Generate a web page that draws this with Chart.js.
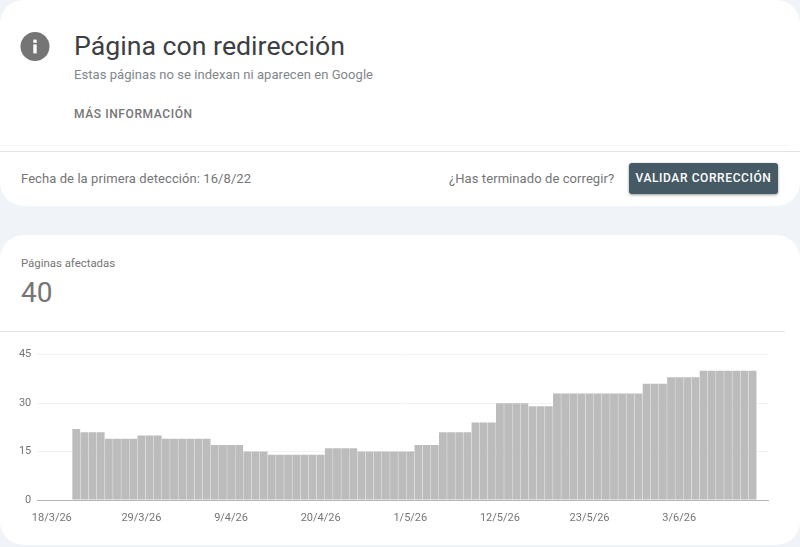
<!DOCTYPE html>
<html lang="es">
<head>
<meta charset="utf-8">
<title>Página con redirección</title>
<script src="https://cdn.jsdelivr.net/npm/chart.js@4"></script>
<style>
html,body{margin:0;padding:0;width:800px;height:547px;overflow:hidden;background:#f0f4f9;font-family:Roboto,sans-serif}
.card{position:absolute;left:0;width:800px;background:#fff;border-radius:24px}
.t{position:absolute;white-space:nowrap;margin:0;font-weight:400}
.rule{position:absolute;height:1px}
#wrap{position:absolute;left:0;top:340px;width:800px;height:207px}
</style>
</head>
<body>
<div class="card" style="top:0;height:206px"></div>
<div class="card" style="top:235px;height:310px"></div>

<svg style="position:absolute;left:20px;top:31px" width="30" height="30" viewBox="0 0 30 30" aria-hidden="true">
  <circle cx="15" cy="15.5" r="14.5" fill="#757575"/>
  <rect x="13.3" y="8.6" width="3.4" height="3.2" fill="#fff"/>
  <rect x="13.3" y="13.4" width="3.4" height="9" fill="#fff"/>
</svg>

<h1 class="t" style="left:74px;top:30px;font-size:26.7px;line-height:32px;color:#3c4043">Página con redirección</h1>
<div class="t" style="left:74px;top:67px;font-size:13px;line-height:16px;color:#80868b;letter-spacing:.06px">Estas páginas no se indexan ni aparecen en Google</div>
<div class="t" style="left:74px;top:106px;font-size:12px;line-height:16px;color:#757575;font-weight:500;letter-spacing:.6px">MÁS INFORMACIÓN</div>

<div class="rule" style="left:0;top:145px;width:790px;background:#f5f5f5"></div>
<div class="rule" style="left:0;top:151px;width:800px;background:#e3e3e3"></div>

<div class="t" style="left:21px;top:170px;font-size:13px;line-height:17px;color:#757575;letter-spacing:.08px">Fecha de la primera detección: 16/8/22</div>
<div class="t" style="left:449px;top:170px;font-size:13px;line-height:17px;color:#757575;letter-spacing:.08px">¿Has terminado de corregir?</div>
<div class="t" style="left:629px;top:163px;width:149px;height:31px;line-height:30px;text-align:center;background:#455a64;color:#fff;border-radius:3px;font-size:12px;font-weight:500;letter-spacing:.6px;box-shadow:0 1px 3px rgba(0,0,0,.4)">VALIDAR CORRECCIÓN</div>

<div class="t" style="left:21px;top:256px;font-size:11.4px;line-height:14px;color:#757575">Páginas afectadas</div>
<div class="t" style="left:21px;top:276px;font-size:28px;line-height:34px;color:#757575">40</div>
<div class="rule" style="left:0;top:331px;width:785px;background:#e3e3e3"></div>

<div id="wrap"><canvas id="c" width="800" height="207"></canvas></div>

<script>
// Affected pages per day; index 0 is the first day that has a bar (21/3/26)
const pages = [
  22,21,21,21,19,19,19,19,20,20,20,19,19,19,19,19,19,17,17,17,17,
  15,15,15,14,14,14,14,14,14,14,16,16,16,16,15,15,15,15,15,15,15,
  17,17,17,21,21,21,21,24,24,24,30,30,30,30,29,29,29,
  33,33,33,33,33,33,33,33,33,33,33,36,36,36,38,38,38,38,40,40,40,40,40,40,40
];
const dayIndex = pages.map((_, i) => i);
const tickLabels = ['18/3/26','29/3/26','9/4/26','20/4/26','1/5/26','12/5/26','23/5/26','3/6/26'];
const tickDays = [-3, 8, 19, 30, 41, 52, 63, 74];
const yTicks = [0, 15, 30, 45];

const points = dayIndex.map((d, i) => ({ x: d, y: pages[i] }));

new Chart(document.getElementById('c'), {
  type: 'bar',
  data: {
    datasets: [{
      label: 'Páginas afectadas',
      data: points,
      backgroundColor: '#bcbcbc',
      barPercentage: 0.96,
      categoryPercentage: 1
    }]
  },
  options: {
    responsive: false,
    animation: false,
    layout: { padding: { left: 0, right: 32, top: 14.7, bottom: 0 } },
    plugins: { legend: { display: false }, tooltip: { enabled: false } },
    scales: {
      x: {
        type: 'linear',
        offset: false,
        min: -4.78,
        max: 84.9,
        grid: { display: false, drawTicks: false, offset: false },
        border: { color: '#b4b4b4', width: 1 },
        afterBuildTicks: s => { s.ticks = tickDays.map(v => ({ value: v })); },
        afterFit: s => { s.height = 47; },
        ticks: {
          autoSkip: false,
          maxRotation: 0,
          padding: 12,
          color: '#757575',
          font: { family: 'Roboto', size: 11 },
          callback: v => tickLabels[tickDays.indexOf(v)]
        }
      },
      y: {
        min: 0,
        max: 45,
        grid: { color: '#f3f3f3', drawTicks: false },
        border: { display: false },
        afterBuildTicks: s => { s.ticks = yTicks.map(v => ({ value: v })); },
        afterFit: s => { s.width = 37.3; },
        ticks: {
          padding: 6,
          color: '#757575',
          font: { family: 'Roboto', size: 11 }
        }
      }
    }
  }
});
</script>
</body>
</html>
